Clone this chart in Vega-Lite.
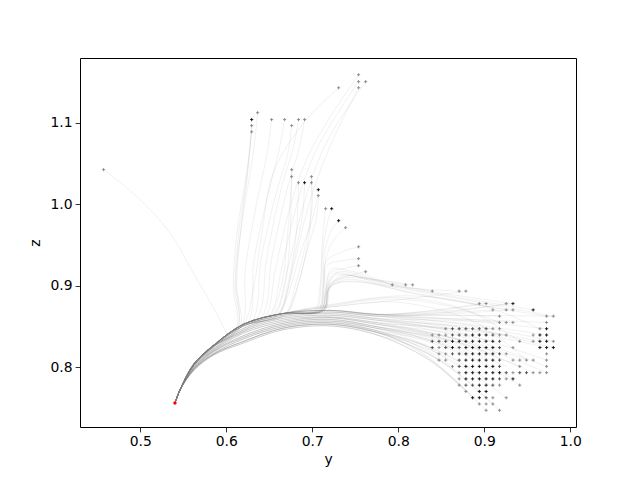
{
"$schema":"https://vega.github.io/schema/vega-lite/v6.json",
"width":496,"height":369,
"autosize":{"type":"none"},
"padding":{"left":80,"top":58,"right":64,"bottom":53},
"background":"white",
"datasets":{
"traj":[
{"i":1,"y":0.5403,"z":0.7563},{"i":1,"y":0.546,"z":0.772},{"i":1,"y":0.562,"z":0.796},{"i":1,"y":0.585,"z":0.815},{"i":1,"y":0.62,"z":0.83},{"i":1,"y":0.665,"z":0.846},{"i":1,"y":0.72,"z":0.851},{"i":1,"y":0.775,"z":0.84},{"i":1,"y":0.845,"z":0.803},{"i":1,"y":0.9021,"z":0.7475},
{"i":2,"y":0.5403,"z":0.7563},{"i":2,"y":0.546,"z":0.772},{"i":2,"y":0.562,"z":0.797},{"i":2,"y":0.585,"z":0.816},{"i":2,"y":0.62,"z":0.832},{"i":2,"y":0.665,"z":0.848},{"i":2,"y":0.72,"z":0.853},{"i":2,"y":0.775,"z":0.843},{"i":2,"y":0.853,"z":0.805},{"i":2,"y":0.9177,"z":0.7475},
{"i":3,"y":0.5403,"z":0.7563},{"i":3,"y":0.546,"z":0.772},{"i":3,"y":0.562,"z":0.796},{"i":3,"y":0.585,"z":0.815},{"i":3,"y":0.62,"z":0.83},{"i":3,"y":0.665,"z":0.846},{"i":3,"y":0.72,"z":0.851},{"i":3,"y":0.775,"z":0.84},{"i":3,"y":0.841,"z":0.806},{"i":3,"y":0.8942,"z":0.7552},
{"i":4,"y":0.5403,"z":0.7563},{"i":4,"y":0.546,"z":0.772},{"i":4,"y":0.562,"z":0.797},{"i":4,"y":0.585,"z":0.816},{"i":4,"y":0.62,"z":0.832},{"i":4,"y":0.665,"z":0.848},{"i":4,"y":0.72,"z":0.853},{"i":4,"y":0.775,"z":0.843},{"i":4,"y":0.849,"z":0.808},{"i":4,"y":0.9099,"z":0.7552},
{"i":5,"y":0.5403,"z":0.7563},{"i":5,"y":0.546,"z":0.772},{"i":5,"y":0.562,"z":0.798},{"i":5,"y":0.585,"z":0.817},{"i":5,"y":0.62,"z":0.835},{"i":5,"y":0.665,"z":0.85},{"i":5,"y":0.72,"z":0.855},{"i":5,"y":0.775,"z":0.845},{"i":5,"y":0.836,"z":0.812},{"i":5,"y":0.8864,"z":0.7629},
{"i":6,"y":0.5403,"z":0.7563},{"i":6,"y":0.546,"z":0.772},{"i":6,"y":0.562,"z":0.797},{"i":6,"y":0.585,"z":0.816},{"i":6,"y":0.62,"z":0.832},{"i":6,"y":0.665,"z":0.848},{"i":6,"y":0.72,"z":0.853},{"i":6,"y":0.775,"z":0.843},{"i":6,"y":0.858,"z":0.811},{"i":6,"y":0.9255,"z":0.7629},
{"i":7,"y":0.5403,"z":0.7563},{"i":7,"y":0.546,"z":0.772},{"i":7,"y":0.562,"z":0.796},{"i":7,"y":0.585,"z":0.815},{"i":7,"y":0.62,"z":0.83},{"i":7,"y":0.665,"z":0.846},{"i":7,"y":0.72,"z":0.851},{"i":7,"y":0.775,"z":0.84},{"i":7,"y":0.832,"z":0.812},{"i":7,"y":0.8786,"z":0.7706},
{"i":8,"y":0.5403,"z":0.7563},{"i":8,"y":0.546,"z":0.772},{"i":8,"y":0.562,"z":0.797},{"i":8,"y":0.585,"z":0.816},{"i":8,"y":0.62,"z":0.832},{"i":8,"y":0.665,"z":0.848},{"i":8,"y":0.72,"z":0.853},{"i":8,"y":0.775,"z":0.843},{"i":8,"y":0.828,"z":0.817},{"i":8,"y":0.8708,"z":0.7783},
{"i":9,"y":0.5403,"z":0.7563},{"i":9,"y":0.546,"z":0.772},{"i":9,"y":0.562,"z":0.798},{"i":9,"y":0.585,"z":0.819},{"i":9,"y":0.62,"z":0.837},{"i":9,"y":0.665,"z":0.852},{"i":9,"y":0.72,"z":0.857},{"i":9,"y":0.775,"z":0.848},{"i":9,"y":0.866,"z":0.82},{"i":9,"y":0.9412,"z":0.7783},
{"i":10,"y":0.5403,"z":0.7563},{"i":10,"y":0.546,"z":0.772},{"i":10,"y":0.562,"z":0.798},{"i":10,"y":0.585,"z":0.817},{"i":10,"y":0.62,"z":0.835},{"i":10,"y":0.665,"z":0.85},{"i":10,"y":0.72,"z":0.855},{"i":10,"y":0.775,"z":0.845},{"i":10,"y":0.845,"z":0.821},{"i":10,"y":0.9021,"z":0.786},
{"i":11,"y":0.5403,"z":0.7563},{"i":11,"y":0.546,"z":0.772},{"i":11,"y":0.562,"z":0.799},{"i":11,"y":0.585,"z":0.82},{"i":11,"y":0.62,"z":0.839},{"i":11,"y":0.665,"z":0.854},{"i":11,"y":0.72,"z":0.859},{"i":11,"y":0.775,"z":0.85},{"i":11,"y":0.862,"z":0.824},{"i":11,"y":0.9333,"z":0.786},
{"i":12,"y":0.5403,"z":0.7563},{"i":12,"y":0.546,"z":0.772},{"i":12,"y":0.562,"z":0.796},{"i":12,"y":0.585,"z":0.815},{"i":12,"y":0.62,"z":0.83},{"i":12,"y":0.665,"z":0.846},{"i":12,"y":0.72,"z":0.851},{"i":12,"y":0.775,"z":0.84},{"i":12,"y":0.828,"z":0.821},{"i":12,"y":0.8708,"z":0.7936},
{"i":13,"y":0.5403,"z":0.7563},{"i":13,"y":0.546,"z":0.772},{"i":13,"y":0.562,"z":0.8},{"i":13,"y":0.585,"z":0.821},{"i":13,"y":0.62,"z":0.842},{"i":13,"y":0.665,"z":0.856},{"i":13,"y":0.72,"z":0.861},{"i":13,"y":0.775,"z":0.853},{"i":13,"y":0.875,"z":0.829},{"i":13,"y":0.9568,"z":0.7936},
{"i":14,"y":0.5403,"z":0.7563},{"i":14,"y":0.546,"z":0.772},{"i":14,"y":0.562,"z":0.801},{"i":14,"y":0.585,"z":0.822},{"i":14,"y":0.62,"z":0.844},{"i":14,"y":0.665,"z":0.858},{"i":14,"y":0.72,"z":0.862},{"i":14,"y":0.775,"z":0.855},{"i":14,"y":0.883,"z":0.83},{"i":14,"y":0.9724,"z":0.7936},
{"i":15,"y":0.5403,"z":0.7563},{"i":15,"y":0.546,"z":0.772},{"i":15,"y":0.562,"z":0.797},{"i":15,"y":0.585,"z":0.816},{"i":15,"y":0.62,"z":0.832},{"i":15,"y":0.665,"z":0.848},{"i":15,"y":0.72,"z":0.853},{"i":15,"y":0.775,"z":0.843},{"i":15,"y":0.824,"z":0.826},{"i":15,"y":0.863,"z":0.8013},
{"i":16,"y":0.5403,"z":0.7563},{"i":16,"y":0.546,"z":0.772},{"i":16,"y":0.562,"z":0.799},{"i":16,"y":0.585,"z":0.82},{"i":16,"y":0.62,"z":0.839},{"i":16,"y":0.665,"z":0.854},{"i":16,"y":0.72,"z":0.859},{"i":16,"y":0.775,"z":0.85},{"i":16,"y":0.866,"z":0.83},{"i":16,"y":0.9412,"z":0.8013},
{"i":17,"y":0.5403,"z":0.7563},{"i":17,"y":0.546,"z":0.772},{"i":17,"y":0.562,"z":0.802},{"i":17,"y":0.585,"z":0.823},{"i":17,"y":0.62,"z":0.846},{"i":17,"y":0.665,"z":0.86},{"i":17,"y":0.72,"z":0.864},{"i":17,"y":0.775,"z":0.858},{"i":17,"y":0.883,"z":0.835},{"i":17,"y":0.9724,"z":0.8013},
{"i":18,"y":0.5403,"z":0.7563},{"i":18,"y":0.546,"z":0.772},{"i":18,"y":0.562,"z":0.798},{"i":18,"y":0.585,"z":0.817},{"i":18,"y":0.62,"z":0.835},{"i":18,"y":0.665,"z":0.85},{"i":18,"y":0.72,"z":0.855},{"i":18,"y":0.775,"z":0.845},{"i":18,"y":0.815,"z":0.83},{"i":18,"y":0.8473,"z":0.809},
{"i":19,"y":0.5403,"z":0.7563},{"i":19,"y":0.546,"z":0.772},{"i":19,"y":0.562,"z":0.8},{"i":19,"y":0.585,"z":0.821},{"i":19,"y":0.62,"z":0.842},{"i":19,"y":0.665,"z":0.856},{"i":19,"y":0.72,"z":0.861},{"i":19,"y":0.775,"z":0.853},{"i":19,"y":0.87,"z":0.835},{"i":19,"y":0.949,"z":0.809},
{"i":20,"y":0.5403,"z":0.7563},{"i":20,"y":0.546,"z":0.772},{"i":20,"y":0.562,"z":0.802},{"i":20,"y":0.585,"z":0.825},{"i":20,"y":0.62,"z":0.848},{"i":20,"y":0.665,"z":0.862},{"i":20,"y":0.72,"z":0.866},{"i":20,"y":0.775,"z":0.86},{"i":20,"y":0.883,"z":0.839},{"i":20,"y":0.9724,"z":0.809},
{"i":21,"y":0.5403,"z":0.7563},{"i":21,"y":0.546,"z":0.772},{"i":21,"y":0.562,"z":0.798},{"i":21,"y":0.585,"z":0.819},{"i":21,"y":0.62,"z":0.837},{"i":21,"y":0.665,"z":0.852},{"i":21,"y":0.72,"z":0.857},{"i":21,"y":0.775,"z":0.848},{"i":21,"y":0.815,"z":0.835},{"i":21,"y":0.8473,"z":0.8167},
{"i":22,"y":0.5403,"z":0.7563},{"i":22,"y":0.546,"z":0.772},{"i":22,"y":0.562,"z":0.799},{"i":22,"y":0.585,"z":0.82},{"i":22,"y":0.62,"z":0.839},{"i":22,"y":0.665,"z":0.854},{"i":22,"y":0.72,"z":0.859},{"i":22,"y":0.775,"z":0.85},{"i":22,"y":0.849,"z":0.836},{"i":22,"y":0.9099,"z":0.8167},
{"i":23,"y":0.5403,"z":0.7563},{"i":23,"y":0.546,"z":0.772},{"i":23,"y":0.562,"z":0.797},{"i":23,"y":0.585,"z":0.816},{"i":23,"y":0.62,"z":0.832},{"i":23,"y":0.665,"z":0.848},{"i":23,"y":0.72,"z":0.853},{"i":23,"y":0.775,"z":0.843},{"i":23,"y":0.811,"z":0.835},{"i":23,"y":0.8395,"z":0.8244},
{"i":24,"y":0.5403,"z":0.7563},{"i":24,"y":0.546,"z":0.772},{"i":24,"y":0.562,"z":0.803},{"i":24,"y":0.585,"z":0.826},{"i":24,"y":0.62,"z":0.851},{"i":24,"y":0.665,"z":0.864},{"i":24,"y":0.72,"z":0.868},{"i":24,"y":0.775,"z":0.863},{"i":24,"y":0.887,"z":0.847},{"i":24,"y":0.9803,"z":0.8244},
{"i":25,"y":0.5403,"z":0.7563},{"i":25,"y":0.546,"z":0.772},{"i":25,"y":0.562,"z":0.802},{"i":25,"y":0.585,"z":0.823},{"i":25,"y":0.62,"z":0.846},{"i":25,"y":0.665,"z":0.86},{"i":25,"y":0.72,"z":0.864},{"i":25,"y":0.775,"z":0.858},{"i":25,"y":0.883,"z":0.844},{"i":25,"y":0.9724,"z":0.8244},
{"i":26,"y":0.5403,"z":0.7563},{"i":26,"y":0.546,"z":0.772},{"i":26,"y":0.562,"z":0.798},{"i":26,"y":0.585,"z":0.819},{"i":26,"y":0.62,"z":0.837},{"i":26,"y":0.665,"z":0.852},{"i":26,"y":0.72,"z":0.857},{"i":26,"y":0.775,"z":0.848},{"i":26,"y":0.811,"z":0.841},{"i":26,"y":0.8395,"z":0.8321},
{"i":27,"y":0.5403,"z":0.7563},{"i":27,"y":0.546,"z":0.772},{"i":27,"y":0.562,"z":0.804},{"i":27,"y":0.585,"z":0.827},{"i":27,"y":0.62,"z":0.853},{"i":27,"y":0.665,"z":0.866},{"i":27,"y":0.72,"z":0.87},{"i":27,"y":0.775,"z":0.865},{"i":27,"y":0.887,"z":0.851},{"i":27,"y":0.9803,"z":0.8321},
{"i":28,"y":0.5403,"z":0.7563},{"i":28,"y":0.546,"z":0.772},{"i":28,"y":0.562,"z":0.802},{"i":28,"y":0.585,"z":0.825},{"i":28,"y":0.62,"z":0.848},{"i":28,"y":0.665,"z":0.862},{"i":28,"y":0.72,"z":0.866},{"i":28,"y":0.775,"z":0.86},{"i":28,"y":0.879,"z":0.848},{"i":28,"y":0.9646,"z":0.8321},
{"i":29,"y":0.5403,"z":0.7563},{"i":29,"y":0.546,"z":0.772},{"i":29,"y":0.562,"z":0.8},{"i":29,"y":0.585,"z":0.821},{"i":29,"y":0.62,"z":0.842},{"i":29,"y":0.665,"z":0.856},{"i":29,"y":0.72,"z":0.861},{"i":29,"y":0.775,"z":0.853},{"i":29,"y":0.811,"z":0.847},{"i":29,"y":0.8395,"z":0.8398},
{"i":30,"y":0.5403,"z":0.7563},{"i":30,"y":0.546,"z":0.772},{"i":30,"y":0.562,"z":0.801},{"i":30,"y":0.585,"z":0.822},{"i":30,"y":0.62,"z":0.844},{"i":30,"y":0.665,"z":0.858},{"i":30,"y":0.72,"z":0.862},{"i":30,"y":0.775,"z":0.855},{"i":30,"y":0.858,"z":0.848},{"i":30,"y":0.9255,"z":0.8398},
{"i":31,"y":0.5403,"z":0.7563},{"i":31,"y":0.546,"z":0.772},{"i":31,"y":0.562,"z":0.803},{"i":31,"y":0.585,"z":0.826},{"i":31,"y":0.62,"z":0.851},{"i":31,"y":0.665,"z":0.864},{"i":31,"y":0.72,"z":0.868},{"i":31,"y":0.775,"z":0.863},{"i":31,"y":0.883,"z":0.853},{"i":31,"y":0.9724,"z":0.8398},
{"i":32,"y":0.5403,"z":0.7563},{"i":32,"y":0.546,"z":0.772},{"i":32,"y":0.562,"z":0.801},{"i":32,"y":0.585,"z":0.822},{"i":32,"y":0.62,"z":0.844},{"i":32,"y":0.665,"z":0.858},{"i":32,"y":0.72,"z":0.862},{"i":32,"y":0.775,"z":0.855},{"i":32,"y":0.819,"z":0.851},{"i":32,"y":0.8551,"z":0.8475},
{"i":33,"y":0.5403,"z":0.7563},{"i":33,"y":0.546,"z":0.772},{"i":33,"y":0.562,"z":0.804},{"i":33,"y":0.585,"z":0.827},{"i":33,"y":0.62,"z":0.853},{"i":33,"y":0.665,"z":0.866},{"i":33,"y":0.72,"z":0.87},{"i":33,"y":0.775,"z":0.865},{"i":33,"y":0.883,"z":0.857},{"i":33,"y":0.9724,"z":0.8475},
{"i":34,"y":0.5403,"z":0.7563},{"i":34,"y":0.546,"z":0.772},{"i":34,"y":0.562,"z":0.802},{"i":34,"y":0.585,"z":0.825},{"i":34,"y":0.62,"z":0.848},{"i":34,"y":0.665,"z":0.862},{"i":34,"y":0.72,"z":0.866},{"i":34,"y":0.775,"z":0.86},{"i":34,"y":0.853,"z":0.858},{"i":34,"y":0.9177,"z":0.8552},
{"i":35,"y":0.5403,"z":0.7563},{"i":35,"y":0.546,"z":0.772},{"i":35,"y":0.562,"z":0.803},{"i":35,"y":0.585,"z":0.826},{"i":35,"y":0.62,"z":0.851},{"i":35,"y":0.665,"z":0.864},{"i":35,"y":0.72,"z":0.868},{"i":35,"y":0.775,"z":0.863},{"i":35,"y":0.883,"z":0.859},{"i":35,"y":0.9724,"z":0.8552},
{"i":36,"y":0.5403,"z":0.7563},{"i":36,"y":0.546,"z":0.772},{"i":36,"y":0.562,"z":0.804},{"i":36,"y":0.585,"z":0.827},{"i":36,"y":0.62,"z":0.853},{"i":36,"y":0.665,"z":0.866},{"i":36,"y":0.72,"z":0.87},{"i":36,"y":0.775,"z":0.865},{"i":36,"y":0.853,"z":0.864},{"i":36,"y":0.9177,"z":0.8629},
{"i":37,"y":0.5403,"z":0.7563},{"i":37,"y":0.546,"z":0.772},{"i":37,"y":0.562,"z":0.804},{"i":37,"y":0.585,"z":0.827},{"i":37,"y":0.62,"z":0.853},{"i":37,"y":0.665,"z":0.866},{"i":37,"y":0.72,"z":0.87},{"i":37,"y":0.775,"z":0.865},{"i":37,"y":0.887,"z":0.864},{"i":37,"y":0.9803,"z":0.8629},
{"i":38,"y":0.5403,"z":0.7563},{"i":38,"y":0.546,"z":0.772},{"i":38,"y":0.562,"z":0.804},{"i":38,"y":0.585,"z":0.827},{"i":38,"y":0.62,"z":0.853},{"i":38,"y":0.665,"z":0.866},{"i":38,"y":0.72,"z":0.87},{"i":38,"y":0.775,"z":0.865},{"i":38,"y":0.849,"z":0.867},{"i":38,"y":0.9099,"z":0.8706},
{"i":39,"y":0.5403,"z":0.7563},{"i":39,"y":0.546,"z":0.772},{"i":39,"y":0.562,"z":0.803},{"i":39,"y":0.585,"z":0.826},{"i":39,"y":0.62,"z":0.851},{"i":39,"y":0.665,"z":0.864},{"i":39,"y":0.72,"z":0.868},{"i":39,"y":0.775,"z":0.863},{"i":39,"y":0.862,"z":0.866},{"i":39,"y":0.9333,"z":0.8706},
{"i":40,"y":0.5403,"z":0.7563},{"i":40,"y":0.546,"z":0.772},{"i":40,"y":0.562,"z":0.804},{"i":40,"y":0.585,"z":0.827},{"i":40,"y":0.62,"z":0.853},{"i":40,"y":0.665,"z":0.866},{"i":40,"y":0.72,"z":0.87},{"i":40,"y":0.775,"z":0.865},{"i":40,"y":0.841,"z":0.87},{"i":40,"y":0.8942,"z":0.8783},
{"i":41,"y":0.5403,"z":0.7563},{"i":41,"y":0.546,"z":0.772},{"i":41,"y":0.562,"z":0.804},{"i":41,"y":0.585,"z":0.827},{"i":41,"y":0.62,"z":0.853},{"i":41,"y":0.665,"z":0.866},{"i":41,"y":0.72,"z":0.87},{"i":41,"y":0.775,"z":0.865},{"i":41,"y":0.862,"z":0.87},{"i":41,"y":0.9333,"z":0.8783},
{"i":42,"y":0.5403,"z":0.7563},{"i":42,"y":0.546,"z":0.772},{"i":42,"y":0.562,"z":0.804},{"i":42,"y":0.585,"z":0.827},{"i":42,"y":0.62,"z":0.853},{"i":42,"y":0.665,"z":0.866},{"i":42,"y":0.72,"z":0.874},{"i":42,"y":0.775,"z":0.88},{"i":42,"y":0.832,"z":0.887},{"i":42,"y":0.8786,"z":0.8936},
{"i":43,"y":0.5403,"z":0.7563},{"i":43,"y":0.546,"z":0.772},{"i":43,"y":0.562,"z":0.799},{"i":43,"y":0.585,"z":0.82},{"i":43,"y":0.62,"z":0.839},{"i":43,"y":0.665,"z":0.854},{"i":43,"y":0.72,"z":0.859},{"i":43,"y":0.775,"z":0.85},{"i":43,"y":0.832,"z":0.842},{"i":43,"y":0.8786,"z":0.8321},
{"i":44,"y":0.5403,"z":0.7563},{"i":44,"y":0.546,"z":0.772},{"i":44,"y":0.562,"z":0.798},{"i":44,"y":0.585,"z":0.819},{"i":44,"y":0.62,"z":0.837},{"i":44,"y":0.665,"z":0.852},{"i":44,"y":0.72,"z":0.857},{"i":44,"y":0.775,"z":0.848},{"i":44,"y":0.841,"z":0.838},{"i":44,"y":0.8942,"z":0.8244},
{"i":45,"y":0.5403,"z":0.7563},{"i":45,"y":0.546,"z":0.772},{"i":45,"y":0.562,"z":0.798},{"i":45,"y":0.585,"z":0.819},{"i":45,"y":0.62,"z":0.837},{"i":45,"y":0.665,"z":0.852},{"i":45,"y":0.72,"z":0.857},{"i":45,"y":0.775,"z":0.848},{"i":45,"y":0.845,"z":0.832},{"i":45,"y":0.9021,"z":0.809},
{"i":46,"y":0.5403,"z":0.7563},{"i":46,"y":0.546,"z":0.772},{"i":46,"y":0.562,"z":0.798},{"i":46,"y":0.585,"z":0.817},{"i":46,"y":0.62,"z":0.835},{"i":46,"y":0.665,"z":0.85},{"i":46,"y":0.72,"z":0.855},{"i":46,"y":0.775,"z":0.845},{"i":46,"y":0.828,"z":0.827},{"i":46,"y":0.8708,"z":0.8013},
{"i":47,"y":0.5403,"z":0.7563},{"i":47,"y":0.546,"z":0.772},{"i":47,"y":0.562,"z":0.797},{"i":47,"y":0.585,"z":0.816},{"i":47,"y":0.62,"z":0.832},{"i":47,"y":0.665,"z":0.848},{"i":47,"y":0.72,"z":0.853},{"i":47,"y":0.775,"z":0.843},{"i":47,"y":0.841,"z":0.823},{"i":47,"y":0.8942,"z":0.7936},
{"i":48,"y":0.5403,"z":0.7563},{"i":48,"y":0.546,"z":0.772},{"i":48,"y":0.562,"z":0.802},{"i":48,"y":0.585,"z":0.823},{"i":48,"y":0.62,"z":0.846},{"i":48,"y":0.665,"z":0.86},{"i":48,"y":0.72,"z":0.864},{"i":48,"y":0.775,"z":0.858},{"i":48,"y":0.836,"z":0.85},{"i":48,"y":0.8864,"z":0.8398},
{"i":49,"y":0.5403,"z":0.7563},{"i":49,"y":0.546,"z":0.772},{"i":49,"y":0.562,"z":0.8},{"i":49,"y":0.585,"z":0.821},{"i":49,"y":0.62,"z":0.842},{"i":49,"y":0.665,"z":0.856},{"i":49,"y":0.72,"z":0.861},{"i":49,"y":0.775,"z":0.853},{"i":49,"y":0.849,"z":0.844},{"i":49,"y":0.9099,"z":0.8321},
{"i":50,"y":0.5403,"z":0.7563},{"i":50,"y":0.546,"z":0.772},{"i":50,"y":0.562,"z":0.801},{"i":50,"y":0.585,"z":0.822},{"i":50,"y":0.62,"z":0.844},{"i":50,"y":0.665,"z":0.858},{"i":50,"y":0.72,"z":0.862},{"i":50,"y":0.775,"z":0.855},{"i":50,"y":0.853,"z":0.839},{"i":50,"y":0.9177,"z":0.8167},
{"i":51,"y":0.5403,"z":0.7563},{"i":51,"y":0.546,"z":0.772},{"i":51,"y":0.562,"z":0.798},{"i":51,"y":0.585,"z":0.817},{"i":51,"y":0.62,"z":0.835},{"i":51,"y":0.665,"z":0.85},{"i":51,"y":0.72,"z":0.855},{"i":51,"y":0.775,"z":0.845},{"i":51,"y":0.824,"z":0.836},{"i":51,"y":0.863,"z":0.8244},
{"i":52,"y":0.5403,"z":0.7563},{"i":52,"y":0.546,"z":0.772},{"i":52,"y":0.562,"z":0.799},{"i":52,"y":0.585,"z":0.82},{"i":52,"y":0.62,"z":0.839},{"i":52,"y":0.665,"z":0.854},{"i":52,"y":0.72,"z":0.859},{"i":52,"y":0.775,"z":0.85},{"i":52,"y":0.858,"z":0.83},{"i":52,"y":0.9255,"z":0.8013},
{"i":53,"y":0.5403,"z":0.7563},{"i":53,"y":0.546,"z":0.772},{"i":53,"y":0.562,"z":0.802},{"i":53,"y":0.585,"z":0.823},{"i":53,"y":0.62,"z":0.846},{"i":53,"y":0.665,"z":0.86},{"i":53,"y":0.72,"z":0.864},{"i":53,"y":0.775,"z":0.858},{"i":53,"y":0.849,"z":0.853},{"i":53,"y":0.9099,"z":0.8475},
{"i":54,"y":0.5403,"z":0.7563},{"i":54,"y":0.546,"z":0.772},{"i":54,"y":0.562,"z":0.802},{"i":54,"y":0.585,"z":0.825},{"i":54,"y":0.62,"z":0.848},{"i":54,"y":0.665,"z":0.862},{"i":54,"y":0.72,"z":0.866},{"i":54,"y":0.775,"z":0.86},{"i":54,"y":0.824,"z":0.855},{"i":54,"y":0.863,"z":0.8475},
{"i":55,"y":0.5403,"z":0.7563},{"i":55,"y":0.546,"z":0.772},{"i":55,"y":0.562,"z":0.803},{"i":55,"y":0.585,"z":0.826},{"i":55,"y":0.62,"z":0.851},{"i":55,"y":0.665,"z":0.864},{"i":55,"y":0.72,"z":0.868},{"i":55,"y":0.775,"z":0.863},{"i":55,"y":0.858,"z":0.868},{"i":55,"y":0.9255,"z":0.8783},
{"i":56,"y":0.5403,"z":0.7563},{"i":56,"y":0.546,"z":0.772},{"i":56,"y":0.562,"z":0.804},{"i":56,"y":0.585,"z":0.827},{"i":56,"y":0.62,"z":0.853},{"i":56,"y":0.665,"z":0.866},{"i":56,"y":0.72,"z":0.87},{"i":56,"y":0.775,"z":0.865},{"i":56,"y":0.862,"z":0.86},{"i":56,"y":0.9333,"z":0.8552},
{"i":57,"y":0.5403,"z":0.7563},{"i":57,"y":0.546,"z":0.772},{"i":57,"y":0.562,"z":0.804},{"i":57,"y":0.585,"z":0.827},{"i":57,"y":0.62,"z":0.853},{"i":57,"y":0.665,"z":0.866},{"i":57,"y":0.72,"z":0.87},{"i":57,"y":0.775,"z":0.865},{"i":57,"y":0.845,"z":0.87},{"i":57,"y":0.9021,"z":0.8783},
{"i":60,"y":0.5403,"z":0.7563},{"i":60,"y":0.546,"z":0.772},{"i":60,"y":0.562,"z":0.802},{"i":60,"y":0.585,"z":0.825},{"i":60,"y":0.612,"z":0.848},{"i":60,"y":0.608,"z":0.9},{"i":60,"y":0.613,"z":0.97},{"i":60,"y":0.623,"z":1.035},{"i":60,"y":0.628,"z":1.075},{"i":60,"y":0.6295,"z":1.104},
{"i":61,"y":0.5403,"z":0.7563},{"i":61,"y":0.546,"z":0.772},{"i":61,"y":0.562,"z":0.802},{"i":61,"y":0.585,"z":0.825},{"i":61,"y":0.614,"z":0.849},{"i":61,"y":0.61,"z":0.9},{"i":61,"y":0.615,"z":0.97},{"i":61,"y":0.624,"z":1.035},{"i":61,"y":0.6295,"z":1.0966},
{"i":62,"y":0.5403,"z":0.7563},{"i":62,"y":0.546,"z":0.772},{"i":62,"y":0.562,"z":0.802},{"i":62,"y":0.585,"z":0.825},{"i":62,"y":0.616,"z":0.85},{"i":62,"y":0.612,"z":0.9},{"i":62,"y":0.617,"z":0.97},{"i":62,"y":0.625,"z":1.04},{"i":62,"y":0.6295,"z":1.089},
{"i":63,"y":0.5403,"z":0.7563},{"i":63,"y":0.546,"z":0.772},{"i":63,"y":0.562,"z":0.802},{"i":63,"y":0.585,"z":0.825},{"i":63,"y":0.613,"z":0.849},{"i":63,"y":0.611,"z":0.91},{"i":63,"y":0.62,"z":0.99},{"i":63,"y":0.631,"z":1.06},{"i":63,"y":0.6364,"z":1.1125},
{"i":64,"y":0.5403,"z":0.7563},{"i":64,"y":0.546,"z":0.772},{"i":64,"y":0.562,"z":0.802},{"i":64,"y":0.585,"z":0.825},{"i":64,"y":0.618,"z":0.851},{"i":64,"y":0.622,"z":0.92},{"i":64,"y":0.635,"z":1.0},{"i":64,"y":0.647,"z":1.06},{"i":64,"y":0.6527,"z":1.104},
{"i":65,"y":0.5403,"z":0.7563},{"i":65,"y":0.546,"z":0.772},{"i":65,"y":0.562,"z":0.803},{"i":65,"y":0.585,"z":0.826},{"i":65,"y":0.625,"z":0.854},{"i":65,"y":0.632,"z":0.93},{"i":65,"y":0.648,"z":1.01},{"i":65,"y":0.661,"z":1.065},{"i":65,"y":0.6678,"z":1.104},
{"i":66,"y":0.5403,"z":0.7563},{"i":66,"y":0.546,"z":0.772},{"i":66,"y":0.562,"z":0.803},{"i":66,"y":0.585,"z":0.826},{"i":66,"y":0.63,"z":0.856},{"i":66,"y":0.64,"z":0.93},{"i":66,"y":0.657,"z":1.01},{"i":66,"y":0.671,"z":1.06},{"i":66,"y":0.676,"z":1.0966},
{"i":67,"y":0.5403,"z":0.7563},{"i":67,"y":0.546,"z":0.772},{"i":67,"y":0.562,"z":0.803},{"i":67,"y":0.585,"z":0.826},{"i":67,"y":0.635,"z":0.858},{"i":67,"y":0.647,"z":0.935},{"i":67,"y":0.664,"z":1.02},{"i":67,"y":0.678,"z":1.07},{"i":67,"y":0.684,"z":1.104},
{"i":68,"y":0.5403,"z":0.7563},{"i":68,"y":0.546,"z":0.772},{"i":68,"y":0.562,"z":0.803},{"i":68,"y":0.585,"z":0.826},{"i":68,"y":0.64,"z":0.859},{"i":68,"y":0.653,"z":0.935},{"i":68,"y":0.671,"z":1.02},{"i":68,"y":0.685,"z":1.07},{"i":68,"y":0.691,"z":1.104},
{"i":69,"y":0.5403,"z":0.7563},{"i":69,"y":0.546,"z":0.772},{"i":69,"y":0.562,"z":0.804},{"i":69,"y":0.585,"z":0.827},{"i":69,"y":0.62,"z":0.853},{"i":69,"y":0.632,"z":0.9},{"i":69,"y":0.642,"z":0.97},{"i":69,"y":0.655,"z":1.04},{"i":69,"y":0.69,"z":1.1},{"i":69,"y":0.7306,"z":1.143},
{"i":70,"y":0.5403,"z":0.7563},{"i":70,"y":0.546,"z":0.772},{"i":70,"y":0.562,"z":0.804},{"i":70,"y":0.585,"z":0.827},{"i":70,"y":0.62,"z":0.853},{"i":70,"y":0.645,"z":0.862},{"i":70,"y":0.657,"z":0.92},{"i":70,"y":0.675,"z":1.0},{"i":70,"y":0.7,"z":1.07},{"i":70,"y":0.7538,"z":1.159},
{"i":71,"y":0.5403,"z":0.7563},{"i":71,"y":0.546,"z":0.772},{"i":71,"y":0.562,"z":0.804},{"i":71,"y":0.585,"z":0.827},{"i":71,"y":0.62,"z":0.853},{"i":71,"y":0.65,"z":0.864},{"i":71,"y":0.664,"z":0.92},{"i":71,"y":0.682,"z":1.0},{"i":71,"y":0.706,"z":1.07},{"i":71,"y":0.7538,"z":1.1505},
{"i":72,"y":0.5403,"z":0.7563},{"i":72,"y":0.546,"z":0.772},{"i":72,"y":0.562,"z":0.804},{"i":72,"y":0.585,"z":0.827},{"i":72,"y":0.62,"z":0.853},{"i":72,"y":0.655,"z":0.865},{"i":72,"y":0.671,"z":0.92},{"i":72,"y":0.69,"z":1.0},{"i":72,"y":0.716,"z":1.075},{"i":72,"y":0.762,"z":1.1505},
{"i":73,"y":0.5403,"z":0.7563},{"i":73,"y":0.546,"z":0.772},{"i":73,"y":0.562,"z":0.804},{"i":73,"y":0.585,"z":0.827},{"i":73,"y":0.62,"z":0.853},{"i":73,"y":0.66,"z":0.866},{"i":73,"y":0.677,"z":0.92},{"i":73,"y":0.696,"z":1.0},{"i":73,"y":0.72,"z":1.07},{"i":73,"y":0.7538,"z":1.143},
{"i":74,"y":0.5403,"z":0.7563},{"i":74,"y":0.546,"z":0.772},{"i":74,"y":0.562,"z":0.803},{"i":74,"y":0.585,"z":0.826},{"i":74,"y":0.62,"z":0.851},{"i":74,"y":0.66,"z":0.864},{"i":74,"y":0.672,"z":0.89},{"i":74,"y":0.686,"z":0.94},{"i":74,"y":0.701,"z":0.985},{"i":74,"y":0.707,"z":1.018},
{"i":75,"y":0.5403,"z":0.7563},{"i":75,"y":0.546,"z":0.772},{"i":75,"y":0.562,"z":0.803},{"i":75,"y":0.585,"z":0.826},{"i":75,"y":0.62,"z":0.851},{"i":75,"y":0.668,"z":0.865},{"i":75,"y":0.68,"z":0.89},{"i":75,"y":0.693,"z":0.94},{"i":75,"y":0.705,"z":0.985},{"i":75,"y":0.707,"z":1.0107},
{"i":76,"y":0.5403,"z":0.7563},{"i":76,"y":0.546,"z":0.772},{"i":76,"y":0.562,"z":0.803},{"i":76,"y":0.585,"z":0.826},{"i":76,"y":0.62,"z":0.851},{"i":76,"y":0.66,"z":0.864},{"i":76,"y":0.67,"z":0.89},{"i":76,"y":0.68,"z":0.94},{"i":76,"y":0.689,"z":0.99},{"i":76,"y":0.691,"z":1.0266},
{"i":77,"y":0.5403,"z":0.7563},{"i":77,"y":0.546,"z":0.772},{"i":77,"y":0.562,"z":0.803},{"i":77,"y":0.585,"z":0.826},{"i":77,"y":0.62,"z":0.851},{"i":77,"y":0.655,"z":0.863},{"i":77,"y":0.668,"z":0.9},{"i":77,"y":0.674,"z":0.96},{"i":77,"y":0.676,"z":1.0426},
{"i":78,"y":0.5403,"z":0.7563},{"i":78,"y":0.546,"z":0.772},{"i":78,"y":0.562,"z":0.803},{"i":78,"y":0.585,"z":0.826},{"i":78,"y":0.62,"z":0.851},{"i":78,"y":0.65,"z":0.862},{"i":78,"y":0.664,"z":0.9},{"i":78,"y":0.671,"z":0.96},{"i":78,"y":0.676,"z":1.034},
{"i":79,"y":0.5403,"z":0.7563},{"i":79,"y":0.546,"z":0.772},{"i":79,"y":0.562,"z":0.803},{"i":79,"y":0.585,"z":0.826},{"i":79,"y":0.62,"z":0.851},{"i":79,"y":0.66,"z":0.864},{"i":79,"y":0.671,"z":0.9},{"i":79,"y":0.681,"z":0.96},{"i":79,"y":0.684,"z":1.0266},
{"i":80,"y":0.5403,"z":0.7563},{"i":80,"y":0.546,"z":0.772},{"i":80,"y":0.562,"z":0.803},{"i":80,"y":0.585,"z":0.826},{"i":80,"y":0.62,"z":0.851},{"i":80,"y":0.668,"z":0.865},{"i":80,"y":0.68,"z":0.9},{"i":80,"y":0.694,"z":0.96},{"i":80,"y":0.7,"z":1.0},{"i":80,"y":0.699,"z":1.034},
{"i":81,"y":0.5403,"z":0.7563},{"i":81,"y":0.546,"z":0.772},{"i":81,"y":0.562,"z":0.803},{"i":81,"y":0.585,"z":0.826},{"i":81,"y":0.62,"z":0.851},{"i":81,"y":0.67,"z":0.866},{"i":81,"y":0.683,"z":0.9},{"i":81,"y":0.696,"z":0.96},{"i":81,"y":0.699,"z":1.0266},
{"i":82,"y":0.5403,"z":0.7563},{"i":82,"y":0.546,"z":0.772},{"i":82,"y":0.562,"z":0.804},{"i":82,"y":0.585,"z":0.827},{"i":82,"y":0.62,"z":0.853},{"i":82,"y":0.665,"z":0.866},{"i":82,"y":0.702,"z":0.87},{"i":82,"y":0.709,"z":0.9},{"i":82,"y":0.711,"z":0.94},{"i":82,"y":0.713,"z":0.97},{"i":82,"y":0.7155,"z":0.9947},
{"i":83,"y":0.5403,"z":0.7563},{"i":83,"y":0.546,"z":0.772},{"i":83,"y":0.562,"z":0.804},{"i":83,"y":0.585,"z":0.827},{"i":83,"y":0.62,"z":0.853},{"i":83,"y":0.665,"z":0.866},{"i":83,"y":0.704,"z":0.87},{"i":83,"y":0.71,"z":0.9},{"i":83,"y":0.712,"z":0.94},{"i":83,"y":0.717,"z":0.975},{"i":83,"y":0.7225,"z":0.9947},
{"i":84,"y":0.5403,"z":0.7563},{"i":84,"y":0.546,"z":0.772},{"i":84,"y":0.562,"z":0.804},{"i":84,"y":0.585,"z":0.827},{"i":84,"y":0.62,"z":0.853},{"i":84,"y":0.665,"z":0.866},{"i":84,"y":0.706,"z":0.87},{"i":84,"y":0.712,"z":0.9},{"i":84,"y":0.714,"z":0.94},{"i":84,"y":0.722,"z":0.968},{"i":84,"y":0.7306,"z":0.98},
{"i":85,"y":0.5403,"z":0.7563},{"i":85,"y":0.546,"z":0.772},{"i":85,"y":0.562,"z":0.804},{"i":85,"y":0.585,"z":0.827},{"i":85,"y":0.62,"z":0.853},{"i":85,"y":0.665,"z":0.866},{"i":85,"y":0.707,"z":0.87},{"i":85,"y":0.713,"z":0.9},{"i":85,"y":0.716,"z":0.935},{"i":85,"y":0.726,"z":0.958},{"i":85,"y":0.7387,"z":0.9714},
{"i":86,"y":0.5403,"z":0.7563},{"i":86,"y":0.546,"z":0.772},{"i":86,"y":0.562,"z":0.804},{"i":86,"y":0.585,"z":0.827},{"i":86,"y":0.62,"z":0.853},{"i":86,"y":0.665,"z":0.866},{"i":86,"y":0.708,"z":0.87},{"i":86,"y":0.713,"z":0.9},{"i":86,"y":0.716,"z":0.93},{"i":86,"y":0.735,"z":0.942},{"i":86,"y":0.7538,"z":0.948},
{"i":87,"y":0.5403,"z":0.7563},{"i":87,"y":0.546,"z":0.772},{"i":87,"y":0.562,"z":0.804},{"i":87,"y":0.585,"z":0.827},{"i":87,"y":0.62,"z":0.853},{"i":87,"y":0.665,"z":0.866},{"i":87,"y":0.708,"z":0.87},{"i":87,"y":0.714,"z":0.9},{"i":87,"y":0.717,"z":0.925},{"i":87,"y":0.735,"z":0.931},{"i":87,"y":0.7538,"z":0.9334},
{"i":88,"y":0.5403,"z":0.7563},{"i":88,"y":0.546,"z":0.772},{"i":88,"y":0.562,"z":0.804},{"i":88,"y":0.585,"z":0.827},{"i":88,"y":0.62,"z":0.853},{"i":88,"y":0.665,"z":0.866},{"i":88,"y":0.71,"z":0.87},{"i":88,"y":0.715,"z":0.895},{"i":88,"y":0.72,"z":0.915},{"i":88,"y":0.74,"z":0.922},{"i":88,"y":0.7538,"z":0.9248},
{"i":89,"y":0.5403,"z":0.7563},{"i":89,"y":0.546,"z":0.772},{"i":89,"y":0.562,"z":0.804},{"i":89,"y":0.585,"z":0.827},{"i":89,"y":0.62,"z":0.853},{"i":89,"y":0.665,"z":0.866},{"i":89,"y":0.71,"z":0.87},{"i":89,"y":0.716,"z":0.89},{"i":89,"y":0.725,"z":0.905},{"i":89,"y":0.745,"z":0.913},{"i":89,"y":0.762,"z":0.9174},
{"i":90,"y":0.5403,"z":0.7563},{"i":90,"y":0.546,"z":0.772},{"i":90,"y":0.562,"z":0.804},{"i":90,"y":0.585,"z":0.827},{"i":90,"y":0.62,"z":0.853},{"i":90,"y":0.665,"z":0.866},{"i":90,"y":0.71,"z":0.87},{"i":90,"y":0.716,"z":0.895},{"i":90,"y":0.722,"z":0.92},{"i":90,"y":0.745,"z":0.918},{"i":90,"y":0.793,"z":0.9013},
{"i":91,"y":0.5403,"z":0.7563},{"i":91,"y":0.546,"z":0.772},{"i":91,"y":0.562,"z":0.804},{"i":91,"y":0.585,"z":0.827},{"i":91,"y":0.62,"z":0.853},{"i":91,"y":0.665,"z":0.866},{"i":91,"y":0.71,"z":0.87},{"i":91,"y":0.717,"z":0.9},{"i":91,"y":0.725,"z":0.915},{"i":91,"y":0.76,"z":0.91},{"i":91,"y":0.8085,"z":0.9013},
{"i":92,"y":0.5403,"z":0.7563},{"i":92,"y":0.546,"z":0.772},{"i":92,"y":0.562,"z":0.804},{"i":92,"y":0.585,"z":0.827},{"i":92,"y":0.62,"z":0.853},{"i":92,"y":0.665,"z":0.866},{"i":92,"y":0.712,"z":0.87},{"i":92,"y":0.718,"z":0.9},{"i":92,"y":0.727,"z":0.913},{"i":92,"y":0.765,"z":0.909},{"i":92,"y":0.8167,"z":0.9013},
{"i":93,"y":0.5403,"z":0.7563},{"i":93,"y":0.546,"z":0.772},{"i":93,"y":0.562,"z":0.804},{"i":93,"y":0.585,"z":0.827},{"i":93,"y":0.62,"z":0.853},{"i":93,"y":0.665,"z":0.866},{"i":93,"y":0.712,"z":0.87},{"i":93,"y":0.718,"z":0.9},{"i":93,"y":0.73,"z":0.917},{"i":93,"y":0.78,"z":0.905},{"i":93,"y":0.8395,"z":0.8936},
{"i":94,"y":0.5403,"z":0.7563},{"i":94,"y":0.546,"z":0.772},{"i":94,"y":0.562,"z":0.804},{"i":94,"y":0.585,"z":0.827},{"i":94,"y":0.62,"z":0.853},{"i":94,"y":0.665,"z":0.866},{"i":94,"y":0.712,"z":0.87},{"i":94,"y":0.72,"z":0.9},{"i":94,"y":0.735,"z":0.913},{"i":94,"y":0.79,"z":0.9},{"i":94,"y":0.8708,"z":0.8936},
{"i":95,"y":0.5403,"z":0.7563},{"i":95,"y":0.546,"z":0.772},{"i":95,"y":0.562,"z":0.804},{"i":95,"y":0.585,"z":0.827},{"i":95,"y":0.62,"z":0.853},{"i":95,"y":0.665,"z":0.866},{"i":95,"y":0.713,"z":0.87},{"i":95,"y":0.72,"z":0.9},{"i":95,"y":0.74,"z":0.91},{"i":95,"y":0.82,"z":0.895},{"i":95,"y":0.9568,"z":0.8706},
{"i":96,"y":0.5403,"z":0.7563},{"i":96,"y":0.546,"z":0.772},{"i":96,"y":0.562,"z":0.804},{"i":96,"y":0.585,"z":0.827},{"i":96,"y":0.62,"z":0.853},{"i":96,"y":0.665,"z":0.866},{"i":96,"y":0.714,"z":0.87},{"i":96,"y":0.722,"z":0.9},{"i":96,"y":0.745,"z":0.905},{"i":96,"y":0.84,"z":0.89},{"i":96,"y":0.9803,"z":0.8629},
{"i":97,"y":0.5403,"z":0.7563},{"i":97,"y":0.546,"z":0.772},{"i":97,"y":0.562,"z":0.804},{"i":97,"y":0.585,"z":0.827},{"i":97,"y":0.62,"z":0.853},{"i":97,"y":0.665,"z":0.866},{"i":97,"y":0.714,"z":0.87},{"i":97,"y":0.721,"z":0.898},{"i":97,"y":0.742,"z":0.906},{"i":97,"y":0.83,"z":0.888},{"i":97,"y":0.9724,"z":0.8629},
{"i":98,"y":0.5403,"z":0.7563},{"i":98,"y":0.546,"z":0.772},{"i":98,"y":0.562,"z":0.804},{"i":98,"y":0.585,"z":0.827},{"i":98,"y":0.62,"z":0.853},{"i":98,"y":0.665,"z":0.866},{"i":98,"y":0.713,"z":0.87},{"i":98,"y":0.72,"z":0.9},{"i":98,"y":0.738,"z":0.912},{"i":98,"y":0.81,"z":0.898},{"i":98,"y":0.9333,"z":0.8783},
{"i":99,"y":0.5403,"z":0.7563},{"i":99,"y":0.546,"z":0.772},{"i":99,"y":0.562,"z":0.804},{"i":99,"y":0.585,"z":0.827},{"i":99,"y":0.62,"z":0.853},{"i":99,"y":0.665,"z":0.866},{"i":99,"y":0.713,"z":0.87},{"i":99,"y":0.72,"z":0.898},{"i":99,"y":0.74,"z":0.908},{"i":99,"y":0.81,"z":0.893},{"i":99,"y":0.9255,"z":0.8706},
{"i":100,"y":0.5403,"z":0.7563},{"i":100,"y":0.546,"z":0.772},{"i":100,"y":0.562,"z":0.804},{"i":100,"y":0.585,"z":0.827},{"i":100,"y":0.6,"z":0.838},{"i":100,"y":0.594,"z":0.855},{"i":100,"y":0.5578,"z":0.923},{"i":100,"y":0.5345,"z":0.965},{"i":100,"y":0.4997,"z":1.006},{"i":100,"y":0.4573,"z":1.0426},
{"i":101,"y":0.5403,"z":0.7563},{"i":101,"y":0.546,"z":0.772},{"i":101,"y":0.562,"z":0.804},{"i":101,"y":0.585,"z":0.827},{"i":101,"y":0.62,"z":0.853},{"i":101,"y":0.665,"z":0.866},{"i":101,"y":0.72,"z":0.875},{"i":101,"y":0.79,"z":0.884},{"i":101,"y":0.86,"z":0.875},{"i":101,"y":0.9177,"z":0.8552},
{"i":102,"y":0.5403,"z":0.7563},{"i":102,"y":0.546,"z":0.772},{"i":102,"y":0.562,"z":0.804},{"i":102,"y":0.585,"z":0.827},{"i":102,"y":0.62,"z":0.853},{"i":102,"y":0.665,"z":0.866},{"i":102,"y":0.72,"z":0.876},{"i":102,"y":0.8,"z":0.886},{"i":102,"y":0.88,"z":0.87},{"i":102,"y":0.9412,"z":0.8321},
{"i":103,"y":0.5403,"z":0.7563},{"i":103,"y":0.546,"z":0.772},{"i":103,"y":0.562,"z":0.804},{"i":103,"y":0.585,"z":0.827},{"i":103,"y":0.62,"z":0.853},{"i":103,"y":0.665,"z":0.866},{"i":103,"y":0.72,"z":0.877},{"i":103,"y":0.81,"z":0.888},{"i":103,"y":0.9,"z":0.875},{"i":103,"y":0.9646,"z":0.8475},
{"i":104,"y":0.5403,"z":0.7563},{"i":104,"y":0.546,"z":0.772},{"i":104,"y":0.562,"z":0.804},{"i":104,"y":0.585,"z":0.827},{"i":104,"y":0.62,"z":0.853},{"i":104,"y":0.665,"z":0.866},{"i":104,"y":0.72,"z":0.874},{"i":104,"y":0.8,"z":0.88},{"i":104,"y":0.89,"z":0.855},{"i":104,"y":0.949,"z":0.809}
],
"ends":[
{"y":0.9021,"z":0.7475,"n":1},{"y":0.9177,"z":0.7475,"n":1},
{"y":0.8942,"z":0.7552,"n":1},{"y":0.9021,"z":0.7552,"n":1},{"y":0.9099,"z":0.7552,"n":1},
{"y":0.8864,"z":0.7629,"n":3},{"y":0.8942,"z":0.7629,"n":3},{"y":0.9021,"z":0.7629,"n":2},{"y":0.9099,"z":0.7629,"n":1},{"y":0.9255,"z":0.7629,"n":1},
{"y":0.8786,"z":0.7706,"n":1},{"y":0.8942,"z":0.7706,"n":3},{"y":0.9021,"z":0.7706,"n":3},
{"y":0.8708,"z":0.7783,"n":1},{"y":0.8786,"z":0.7783,"n":2},{"y":0.8864,"z":0.7783,"n":2},{"y":0.8942,"z":0.7783,"n":3},{"y":0.9021,"z":0.7783,"n":3},{"y":0.9099,"z":0.7783,"n":2},{"y":0.9177,"z":0.7783,"n":1},{"y":0.9412,"z":0.7783,"n":1},
{"y":0.8708,"z":0.786,"n":1},{"y":0.8786,"z":0.786,"n":3},{"y":0.8864,"z":0.786,"n":3},{"y":0.8942,"z":0.786,"n":3},{"y":0.9021,"z":0.786,"n":3},{"y":0.9099,"z":0.786,"n":3},{"y":0.9177,"z":0.786,"n":2},{"y":0.9255,"z":0.786,"n":1},{"y":0.9333,"z":0.786,"n":3},
{"y":0.8708,"z":0.7936,"n":1},{"y":0.8786,"z":0.7936,"n":3},{"y":0.8864,"z":0.7936,"n":3},{"y":0.8942,"z":0.7936,"n":3},{"y":0.9021,"z":0.7936,"n":3},{"y":0.9099,"z":0.7936,"n":3},{"y":0.9177,"z":0.7936,"n":3},{"y":0.9255,"z":0.7936,"n":2},{"y":0.9333,"z":0.7936,"n":1},{"y":0.9412,"z":0.7936,"n":2},{"y":0.949,"z":0.7936,"n":2},{"y":0.9568,"z":0.7936,"n":1},{"y":0.9646,"z":0.7936,"n":1},{"y":0.9724,"z":0.7936,"n":1},
{"y":0.863,"z":0.8013,"n":1},{"y":0.8708,"z":0.8013,"n":2},{"y":0.8786,"z":0.8013,"n":3},{"y":0.8864,"z":0.8013,"n":3},{"y":0.8942,"z":0.8013,"n":3},{"y":0.9021,"z":0.8013,"n":3},{"y":0.9099,"z":0.8013,"n":3},{"y":0.9177,"z":0.8013,"n":2},{"y":0.9412,"z":0.8013,"n":1},{"y":0.9724,"z":0.8013,"n":1},
{"y":0.8473,"z":0.809,"n":1},{"y":0.8551,"z":0.809,"n":1},{"y":0.8708,"z":0.809,"n":2},{"y":0.8786,"z":0.809,"n":3},{"y":0.8864,"z":0.809,"n":3},{"y":0.8942,"z":0.809,"n":3},{"y":0.9021,"z":0.809,"n":3},{"y":0.9099,"z":0.809,"n":3},{"y":0.9177,"z":0.809,"n":2},{"y":0.9333,"z":0.809,"n":1},{"y":0.9412,"z":0.809,"n":1},{"y":0.949,"z":0.809,"n":1},{"y":0.9568,"z":0.809,"n":1},{"y":0.9724,"z":0.809,"n":1},
{"y":0.8473,"z":0.8167,"n":1},{"y":0.8551,"z":0.8167,"n":1},{"y":0.863,"z":0.8167,"n":2},{"y":0.8708,"z":0.8167,"n":2},{"y":0.8786,"z":0.8167,"n":3},{"y":0.8864,"z":0.8167,"n":3},{"y":0.8942,"z":0.8167,"n":3},{"y":0.9021,"z":0.8167,"n":3},{"y":0.9099,"z":0.8167,"n":3},{"y":0.9177,"z":0.8167,"n":2},{"y":0.9255,"z":0.8167,"n":1},{"y":0.9724,"z":0.8167,"n":1},
{"y":0.8395,"z":0.8244,"n":2},{"y":0.8473,"z":0.8244,"n":1},{"y":0.8551,"z":0.8244,"n":2},{"y":0.863,"z":0.8244,"n":3},{"y":0.8708,"z":0.8244,"n":2},{"y":0.8786,"z":0.8244,"n":3},{"y":0.8864,"z":0.8244,"n":3},{"y":0.8942,"z":0.8244,"n":3},{"y":0.9021,"z":0.8244,"n":3},{"y":0.9099,"z":0.8244,"n":3},{"y":0.9177,"z":0.8244,"n":2},{"y":0.9333,"z":0.8244,"n":1},{"y":0.9646,"z":0.8244,"n":3},{"y":0.9724,"z":0.8244,"n":3},{"y":0.9803,"z":0.8244,"n":3},
{"y":0.8395,"z":0.8321,"n":2},{"y":0.8473,"z":0.8321,"n":2},{"y":0.8551,"z":0.8321,"n":2},{"y":0.863,"z":0.8321,"n":3},{"y":0.8708,"z":0.8321,"n":3},{"y":0.8786,"z":0.8321,"n":3},{"y":0.8864,"z":0.8321,"n":3},{"y":0.8942,"z":0.8321,"n":3},{"y":0.9021,"z":0.8321,"n":3},{"y":0.9099,"z":0.8321,"n":3},{"y":0.9177,"z":0.8321,"n":2},{"y":0.9412,"z":0.8321,"n":1},{"y":0.9568,"z":0.8321,"n":1},{"y":0.9646,"z":0.8321,"n":3},{"y":0.9724,"z":0.8321,"n":3},{"y":0.9803,"z":0.8321,"n":1},
{"y":0.8395,"z":0.8398,"n":1},{"y":0.8473,"z":0.8398,"n":1},{"y":0.8551,"z":0.8398,"n":1},{"y":0.863,"z":0.8398,"n":2},{"y":0.8708,"z":0.8398,"n":2},{"y":0.8786,"z":0.8398,"n":2},{"y":0.8864,"z":0.8398,"n":3},{"y":0.8942,"z":0.8398,"n":3},{"y":0.9021,"z":0.8398,"n":3},{"y":0.9099,"z":0.8398,"n":2},{"y":0.9177,"z":0.8398,"n":1},{"y":0.9255,"z":0.8398,"n":1},{"y":0.9568,"z":0.8398,"n":1},{"y":0.9646,"z":0.8398,"n":3},{"y":0.9724,"z":0.8398,"n":3},
{"y":0.8551,"z":0.8475,"n":1},{"y":0.863,"z":0.8475,"n":2},{"y":0.8708,"z":0.8475,"n":2},{"y":0.8786,"z":0.8475,"n":2},{"y":0.8864,"z":0.8475,"n":2},{"y":0.8942,"z":0.8475,"n":2},{"y":0.9021,"z":0.8475,"n":2},{"y":0.9099,"z":0.8475,"n":1},{"y":0.9177,"z":0.8475,"n":1},{"y":0.9646,"z":0.8475,"n":1},{"y":0.9724,"z":0.8475,"n":3},
{"y":0.9177,"z":0.8552,"n":1},{"y":0.9255,"z":0.8552,"n":1},{"y":0.9333,"z":0.8552,"n":1},{"y":0.9724,"z":0.8552,"n":1},
{"y":0.9177,"z":0.8629,"n":1},{"y":0.9724,"z":0.8629,"n":1},{"y":0.9803,"z":0.8629,"n":1},
{"y":0.9099,"z":0.8706,"n":1},{"y":0.9255,"z":0.8706,"n":1},{"y":0.9333,"z":0.8706,"n":1},{"y":0.9568,"z":0.8706,"n":3},
{"y":0.8942,"z":0.8783,"n":1},{"y":0.9021,"z":0.8783,"n":1},{"y":0.9255,"z":0.8783,"n":1},{"y":0.9333,"z":0.8783,"n":3},
{"y":0.8395,"z":0.8936,"n":1},{"y":0.8708,"z":0.8936,"n":1},{"y":0.8786,"z":0.8936,"n":1},
{"y":0.793,"z":0.9013,"n":1},{"y":0.8085,"z":0.9013,"n":1},{"y":0.8167,"z":0.9013,"n":1},
{"y":0.676,"z":1.0426,"n":1},{"y":0.676,"z":1.034,"n":1},{"y":0.684,"z":1.0266,"n":1},{"y":0.691,"z":1.0266,"n":3},{"y":0.699,"z":1.034,"n":1},{"y":0.699,"z":1.0266,"n":1},{"y":0.707,"z":1.018,"n":3},{"y":0.707,"z":1.0107,"n":1},{"y":0.7155,"z":0.9947,"n":1},{"y":0.7225,"z":0.9947,"n":3},{"y":0.7306,"z":0.98,"n":3},{"y":0.7387,"z":0.9714,"n":1},{"y":0.7538,"z":0.948,"n":1},{"y":0.7538,"z":0.9334,"n":1},{"y":0.7538,"z":0.9248,"n":1},{"y":0.762,"z":0.9174,"n":1},
{"y":0.6364,"z":1.1125,"n":1},{"y":0.6295,"z":1.104,"n":3},{"y":0.6295,"z":1.0966,"n":1},{"y":0.6295,"z":1.089,"n":1},{"y":0.6527,"z":1.104,"n":1},{"y":0.6678,"z":1.104,"n":1},{"y":0.684,"z":1.104,"n":1},{"y":0.691,"z":1.104,"n":1},{"y":0.676,"z":1.0966,"n":1},
{"y":0.7306,"z":1.143,"n":1},{"y":0.7538,"z":1.159,"n":1},{"y":0.7538,"z":1.1505,"n":1},{"y":0.762,"z":1.1505,"n":1},{"y":0.7538,"z":1.143,"n":1},
{"y":0.4573,"z":1.0426,"n":1}
],
"start":[{"y":0.5403,"z":0.7563}]
},
"encoding":{
"x":{"field":"y","type":"quantitative","scale":{"domain":[0.4299,1.0066],"nice":false,"zero":false},"axis":{"values":[0.5,0.6,0.7,0.8,0.9,1.0],"format":".1f","title":"y"}},
"y":{"field":"z","type":"quantitative","scale":{"domain":[0.727,1.1795],"nice":false,"zero":false},"axis":{"values":[0.8,0.9,1.0,1.1],"format":".1f","title":"z"}}
},
"layer":[
{"data":{"name":"traj"},"mark":{"type":"line","interpolate":"catmull-rom","stroke":"#7f7f7f","strokeWidth":0.6,"strokeOpacity":0.18},"encoding":{"detail":{"field":"i","type":"nominal"},"order":{"value":null}}},
{"data":{"name":"ends"},"mark":{"type":"point","shape":"M-1,0L1,0M0,-1L0,1","filled":false,"stroke":"#000","strokeWidth":0.9,"size":10},"encoding":{"opacity":{"field":"n","type":"quantitative","scale":{"domain":[1,3],"range":[0.45,0.95]},"legend":null}}},
{"data":{"name":"start"},"mark":{"type":"point","shape":"circle","filled":true,"color":"#ff0000","size":12,"opacity":1}}
],
"config":{
"view":{"stroke":"#000","strokeWidth":1},
"axis":{"grid":false,"domain":false,"tickSize":4.9,"tickWidth":0.8,"tickColor":"#000","labelFont":"DejaVu Sans","labelFontSize":13.9,"labelColor":"#000","labelPadding":3,"titleFont":"DejaVu Sans","titleFontSize":13.9,"titleFontWeight":"normal","titleColor":"#000"},
"axisX":{"titlePadding":4},
"axisY":{"titlePadding":8}
}
}
